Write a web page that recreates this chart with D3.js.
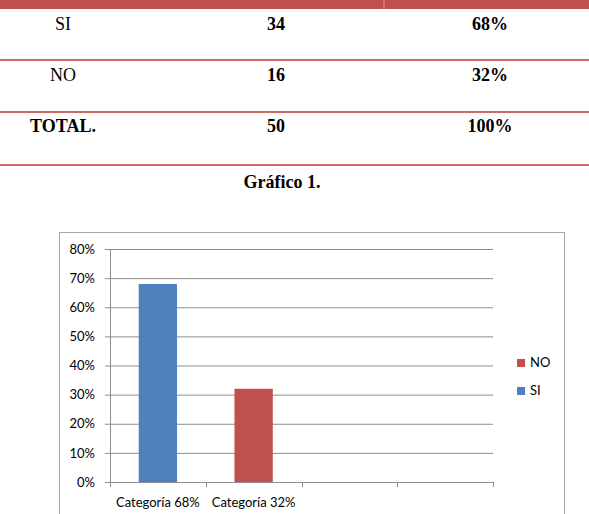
<!DOCTYPE html>
<html>
<head>
<meta charset="utf-8">
<script src="https://cdn.jsdelivr.net/npm/d3@7"></script>
<style>
  body { margin: 0; background: #fff; }
  svg { display: block; }
  .serif { font-family: "Liberation Serif", "Times New Roman", "DejaVu Serif", serif; }
  .sans { font-family: Lato, "Open Sans", sans-serif; }
</style>
</head>
<body>
<svg id="chart" width="589" height="514"></svg>
<script>
// table data
var tableRows = ["SI", "NO", "TOTAL."];
var tableCounts = [34, 16, 50];
var tablePercents = ["68%", "32%", "100%"];

// chart data
var categoryLabels = ["Categoría 68%", "Categoría 32%", "", ""];
var seriesNames = ["SI", "NO"];
var siValues = [0.68, null, null, null];
var noValues = [null, 0.32, null, null];
var yTicks = [0, 0.1, 0.2, 0.3, 0.4, 0.5, 0.6, 0.7, 0.8];

var colors = { "SI": "#4f81bd", "NO": "#c0504d" };
var tableRed = "#c0504d";

var svg = d3.select("#chart");

// ---- table ----
svg.append("rect")
    .attr("x", 0).attr("y", 0)
    .attr("width", 589).attr("height", 9)
    .attr("fill", tableRed);
svg.append("line")
    .attr("x1", 384).attr("x2", 384)
    .attr("y1", 0).attr("y2", 9)
    .attr("stroke", "#e49a98").attr("stroke-width", 1);

var rowLineY = [60, 112, 165];
var rowBaseY = [30, 81, 132];

rowLineY.forEach(function(yy) {
    svg.append("line")
        .attr("x1", 0).attr("x2", 589)
        .attr("y1", yy).attr("y2", yy)
        .attr("stroke", "#cd6a68").attr("stroke-width", 2);
});

var rows = svg.append("g")
    .attr("class", "serif")
    .style("font-size", "18px")
    .attr("fill", "#000")
    .attr("text-anchor", "middle");

tableRows.forEach(function(r, i) {
    rows.append("text")
        .attr("x", 63).attr("y", rowBaseY[i])
        .style("font-weight", r === "TOTAL." ? "bold" : "normal")
        .text(r);
    rows.append("text")
        .attr("x", 276).attr("y", rowBaseY[i])
        .style("font-weight", "bold")
        .text(tableCounts[i]);
    rows.append("text")
        .attr("x", 490).attr("y", rowBaseY[i])
        .style("font-weight", "bold")
        .text(tablePercents[i]);
});

svg.append("text")
    .attr("class", "serif")
    .attr("x", 282).attr("y", 188)
    .attr("text-anchor", "middle")
    .style("font-size", "18px")
    .style("font-weight", "bold")
    .text("Gráfico 1.");

// ---- chart ----
svg.append("rect")
    .attr("x", 59.5).attr("y", 232.5)
    .attr("width", 505).attr("height", 300)
    .attr("fill", "#fff")
    .attr("stroke", "#a6a6a6");

var plotLeft = 110, plotRight = 493, plotTop = 249, plotBottom = 482;

var x = d3.scaleBand()
    .domain(d3.range(categoryLabels.length))
    .range([plotLeft, plotRight])
    .paddingInner(0).paddingOuter(0);

var y = d3.scaleLinear()
    .domain([0, 0.8])
    .range([plotBottom, plotTop]);

// gridlines
var grid = svg.append("g")
    .attr("transform", "translate(" + plotLeft + ",0)")
    .call(d3.axisRight(y).tickValues(yTicks).tickSize(plotRight - plotLeft).tickFormat(""));
grid.select(".domain").remove();
grid.selectAll(".tick line").attr("stroke", "#8c8c8c");

// y axis
var yAxis = svg.append("g")
    .attr("transform", "translate(" + plotLeft + ",0)")
    .call(d3.axisLeft(y).tickValues(yTicks).tickSize(5).tickPadding(10).tickFormat(d3.format(".0%")));
yAxis.select(".domain").attr("stroke", "#8c8c8c");
yAxis.selectAll(".tick line").attr("stroke", "#8c8c8c");
yAxis.selectAll(".tick text")
    .attr("class", "sans")
    .attr("font-family", null)
    .style("font-size", "13px")
    .attr("fill", "#000");

// bars
var series = [
    { name: "SI", values: siValues },
    { name: "NO", values: noValues }
];
var barW = x.bandwidth() * 0.4;

series.forEach(function(s) {
    svg.append("g").selectAll("rect")
        .data(s.values.map(function(v, i) { return { i: i, v: v }; })
            .filter(function(d) { return d.v !== null; }))
        .enter().append("rect")
        .attr("x", function(d) { return x(d.i) + x.bandwidth() / 2 - barW / 2; })
        .attr("y", function(d) { return y(d.v); })
        .attr("width", barW)
        .attr("height", function(d) { return y(0) - y(d.v); })
        .attr("fill", colors[s.name]);
});

// x axis
var xAxisG = svg.append("g");
xAxisG.append("line")
    .attr("x1", plotLeft).attr("x2", plotRight)
    .attr("y1", plotBottom + 0.5).attr("y2", plotBottom + 0.5)
    .attr("stroke", "#8c8c8c");
var bounds = d3.range(categoryLabels.length + 1).map(function(i) {
    return i < categoryLabels.length ? x(i) : x.range()[1];
});
xAxisG.selectAll(".xtick")
    .data(bounds)
    .enter().append("line")
    .attr("x1", function(d) { return Math.round(d) + 0.5; })
    .attr("x2", function(d) { return Math.round(d) + 0.5; })
    .attr("y1", plotBottom).attr("y2", plotBottom + 5)
    .attr("stroke", "#8c8c8c");
xAxisG.selectAll(".xlab")
    .data(categoryLabels)
    .enter().append("text")
    .attr("class", "sans")
    .attr("x", function(d, i) { return x(i) + x.bandwidth() / 2; })
    .attr("y", 507)
    .attr("text-anchor", "middle")
    .style("font-size", "13px")
    .text(function(d) { return d; });

// legend (reverse order like the original)
var legend = svg.append("g")
    .selectAll("g")
    .data(seriesNames.slice().reverse())
    .enter().append("g")
    .attr("transform", function(d, i) { return "translate(517," + (359 + i * 28) + ")"; });
legend.append("rect")
    .attr("width", 8).attr("height", 8)
    .attr("fill", function(d) { return colors[d]; });
legend.append("text")
    .attr("class", "sans")
    .attr("x", 13).attr("y", 8)
    .style("font-size", "13px")
    .text(function(d) { return d; });
</script>
</body>
</html>
